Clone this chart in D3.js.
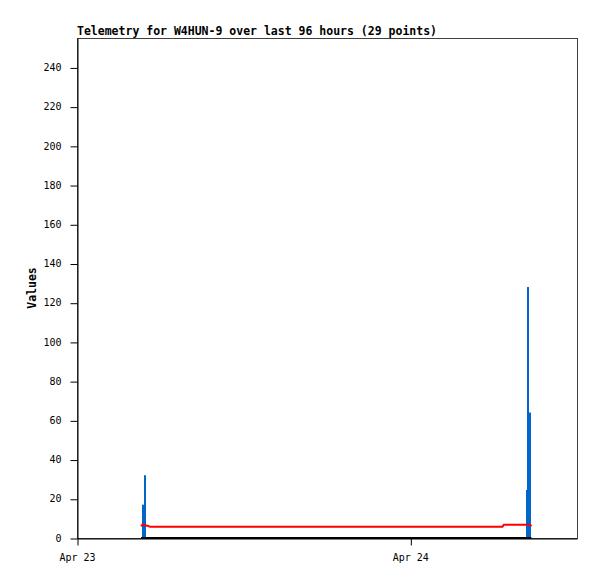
<!DOCTYPE html>
<html>
<head>
<meta charset="utf-8">
<script src="https://cdn.jsdelivr.net/npm/d3@7"></script>
<style>
    body { margin: 0; background: #fff; }
    text { font-family: "DejaVu Sans Mono", monospace; }
</style>
</head>
<body>
<div id="chart"></div>
<script>
// telemetry samples (times)
const times = [
    "2024-04-23 04:37", "2024-04-23 04:45", "2024-04-23 04:54", "2024-04-23 05:03",
    "2024-04-23 05:16", "2024-04-24 06:38", "2024-04-24 06:44", "2024-04-24 08:24",
    "2024-04-24 08:30", "2024-04-24 08:37", "2024-04-24 08:43"
];
const impulseValues = [0, 17, 32, 0, 0, 0, 0, 24.5, 128, 64, 0];
const redValues = [6.0, 7.0, 6.5, 6.3, 5.8, 5.8, 6.8, 6.8, 6.8, 6.8, 6.0];
const blackValues = [0, 0, 0, 0, 0, 0, 0, 0, 0, 0, 0];
const yTicks = [0, 20, 40, 60, 80, 100, 120, 140, 160, 180, 200, 220, 240];
const xTickDates = ["2024-04-23 00:00", "2024-04-24 00:00"];
const xDomain = ["2024-04-23 00:00", "2024-04-24 12:00"];
const yMax = 255;

const title = "Telemetry for W4HUN-9 over last 96 hours (29 points)";

const width = 597, height = 579;
const margin = { top: 38, right: 20, bottom: 41, left: 77 };
const innerW = width - margin.left - margin.right;
const innerH = height - margin.top - margin.bottom;

const parse = d3.timeParse("%Y-%m-%d %H:%M");
const points = times.map((t, i) => ({
    t: parse(t),
    imp: impulseValues[i],
    red: redValues[i],
    black: blackValues[i]
}));

const svg = d3.select("#chart").append("svg")
    .attr("width", width)
    .attr("height", height);

const g = svg.append("g")
    .attr("transform", `translate(${margin.left},${margin.top})`);

const x = d3.scaleTime()
    .domain(xDomain.map(parse))
    .range([0, innerW]);

const y = d3.scaleLinear()
    .domain([0, yMax])
    .range([innerH, 0]);

// frame
g.append("rect")
    .attr("x", 0.5).attr("y", 0.5)
    .attr("width", innerW).attr("height", innerH)
    .attr("fill", "none")
    .attr("stroke", "#404040");

// impulses
g.append("g")
    .selectAll("rect")
    .data(points.filter(d => d.imp > 0))
    .enter().append("rect")
    .attr("x", d => Math.round(x(d.t)) - 1)
    .attr("y", d => y(d.imp))
    .attr("width", 2)
    .attr("height", d => y(0) - y(d.imp))
    .attr("fill", "#0066cc");

// red line
g.append("path")
    .datum(points)
    .attr("fill", "none")
    .attr("stroke", "#ff0000")
    .attr("stroke-width", 2)
    .attr("d", d3.line().x(d => x(d.t)).y(d => y(d.red)));

// black line at zero
g.append("path")
    .datum(points)
    .attr("fill", "none")
    .attr("stroke", "#000")
    .attr("stroke-width", 2)
    .attr("d", d3.line().x(d => x(d.t)).y(d => y(d.black)));

// axes
const yAxis = g.append("g")
    .attr("transform", "translate(0.5,0)")
    .call(d3.axisLeft(y).tickValues(yTicks).tickSize(7).tickSizeOuter(0).tickPadding(9));
yAxis.select(".domain").attr("stroke", "#000");
yAxis.selectAll(".tick line").attr("stroke", "#000").attr("transform", "translate(0,0.5)");
yAxis.selectAll(".tick text")
    .attr("font-family", "DejaVu Sans Mono")
    .attr("font-size", 10)
    .attr("fill", "#000");

const xAxis = g.append("g")
    .attr("transform", `translate(0,${innerH + 0.5})`)
    .call(d3.axisBottom(x)
        .tickValues(xTickDates.map(parse))
        .tickFormat(d3.timeFormat("%b %-d"))
        .tickSize(7)
        .tickSizeOuter(0)
        .tickPadding(8));
xAxis.select(".domain").attr("stroke", "#000");
xAxis.selectAll(".tick line").attr("stroke", "#000").attr("transform", "translate(0.5,0)");
xAxis.selectAll(".tick text")
    .attr("font-family", "DejaVu Sans Mono")
    .attr("font-size", 10)
    .attr("fill", "#000");

// title
svg.append("text")
    .attr("x", margin.left)
    .attr("y", 35)
    .attr("font-size", 11.5)
    .attr("font-weight", "bold")
    .text(title);

// y label
svg.append("text")
    .attr("transform", `translate(36,${margin.top + innerH / 2}) rotate(-90)`)
    .attr("text-anchor", "middle")
    .attr("font-size", 11.5)
    .attr("font-weight", "bold")
    .text("Values");
</script>
</body>
</html>
